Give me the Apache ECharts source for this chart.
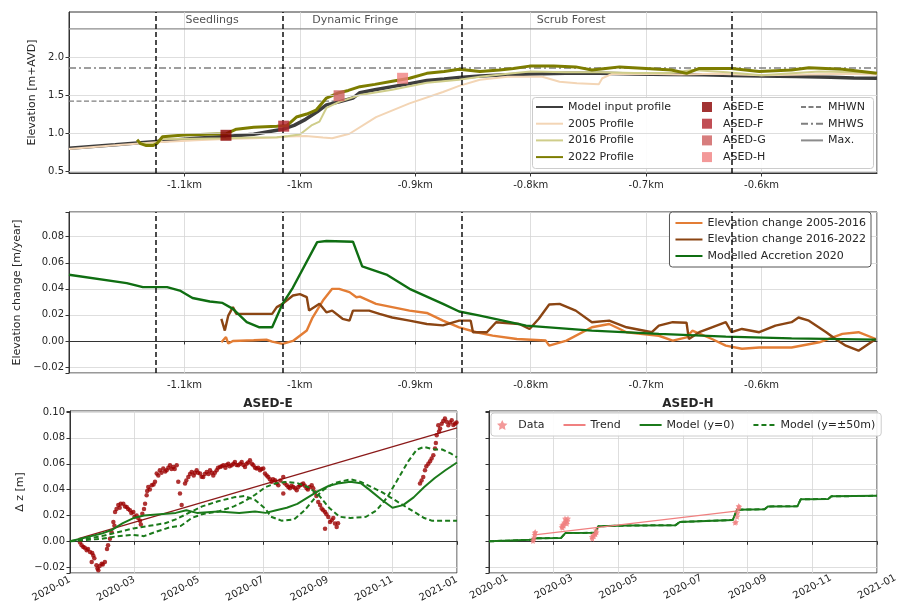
<!DOCTYPE html>
<html>
<head>
<meta charset="utf-8">
<script src="https://cdn.jsdelivr.net/npm/echarts@6.0.0/dist/echarts.min.js"></script>
<style>
  html, body { margin: 0; padding: 0; background: #fff; }
  #chart { width: 909px; height: 610px; }
</style>
</head>
<body>
<div id="chart"></div>
<script>
// ---- top panel: elevation profiles (distance in m, elevation in m+AVD)
const elevTicks = [0.5, 1.0, 1.5, 2.0]
const zoneEdges = [-1125, -1015, -860, -626]
const zoneNames = ['Seedlings', 'Dynamic Fringe', 'Scrub Forest']
const zoneLabelX = [-1076, -952, -765]
const zoneLabelZ = 2.48
const mhwn = 1.42
const mhwnEnd = -970
const mhws = 1.855
const maxLevel = 2.37

const modelProfile = [[-1200,0.80],[-1160,0.845],[-1124,0.89],[-1090,0.93],[-1064,0.955],[-1040,0.985],[-1015,1.05],[-1005,1.10],[-995,1.18],[-985,1.28],[-977,1.37],[-966,1.41],[-954,1.46],[-948,1.53],[-935,1.57],[-920,1.61],[-905,1.65],[-890,1.69],[-875,1.71],[-862,1.73],[-844,1.75],[-820,1.765],[-800,1.775],[-770,1.785],[-740,1.785],[-710,1.775],[-680,1.77],[-650,1.765],[-626,1.755],[-600,1.75],[-570,1.745],[-540,1.735],[-520,1.725],[-500,1.72]]
const profile2005 = [[-1200,0.79],[-1160,0.84],[-1124,0.88],[-1090,0.905],[-1064,0.92],[-1040,0.93],[-1020,0.94],[-1010,0.955],[-995,0.96],[-980,0.94],[-972,0.93],[-957,0.99],[-934,1.21],[-905,1.39],[-876,1.54],[-862,1.62],[-844,1.70],[-820,1.74],[-790,1.74],[-775,1.675],[-760,1.655],[-741,1.64],[-738,1.72],[-730,1.775],[-700,1.78],[-670,1.77],[-640,1.78],[-600,1.76],[-560,1.77],[-530,1.78],[-500,1.77]]
const profile2016 = [[-1141,0.88],[-1130,0.85],[-1124,0.87],[-1119,0.92],[-1090,0.925],[-1064,0.93],[-1040,0.94],[-1020,0.945],[-1010,0.96],[-1000,0.98],[-990,1.10],[-983,1.15],[-977,1.33],[-966,1.41],[-948,1.50],[-920,1.57],[-890,1.66],[-862,1.70],[-844,1.74],[-820,1.78],[-800,1.81],[-770,1.80],[-740,1.80],[-710,1.79],[-680,1.79],[-660,1.83],[-630,1.80],[-600,1.76],[-570,1.79],[-550,1.81],[-520,1.80],[-500,1.79]]
const profile2022 = [[-1141,0.91],[-1138,0.86],[-1133,0.835],[-1127,0.835],[-1124,0.86],[-1119,0.95],[-1100,0.975],[-1080,0.985],[-1064,0.99],[-1055,1.05],[-1040,1.075],[-1020,1.09],[-1011,1.10],[-1003,1.21],[-994,1.25],[-986,1.30],[-977,1.46],[-966,1.53],[-958,1.56],[-948,1.61],[-935,1.64],[-920,1.68],[-905,1.72],[-890,1.785],[-875,1.81],[-862,1.84],[-844,1.81],[-827,1.83],[-815,1.85],[-801,1.88],[-780,1.88],[-761,1.87],[-747,1.83],[-735,1.85],[-723,1.87],[-700,1.85],[-678,1.83],[-665,1.785],[-654,1.85],[-626,1.85],[-602,1.81],[-574,1.83],[-559,1.86],[-530,1.84],[-500,1.785]]

const asedNames = ['ASED-E', 'ASED-F', 'ASED-G', 'ASED-H']
const asedX = [-1064, -1014, -966, -911]
const asedZ = [0.97, 1.09, 1.49, 1.72]
const asedColors = ['#8b0000', '#b2222a', '#cd5c5c', '#f08080']

// ---- middle panel: elevation change (m/year)
const change0516 = [[-1068,-0.001],[-1064,0.003],[-1062,-0.002],[-1058,0.0],[-1040,0.0005],[-1029,0.001],[-1024,-0.0005],[-1015,-0.0023],[-1006,0.0],[-994,0.008],[-989,0.018],[-980,0.031],[-972,0.040],[-966,0.040],[-957,0.0375],[-951,0.0336],[-948,0.034],[-934,0.0285],[-905,0.0233],[-890,0.0215],[-876,0.0156],[-862,0.0105],[-847,0.0067],[-833,0.0041],[-812,0.0015],[-787,0.0003],[-784,-0.0036],[-769,0.0003],[-747,0.0105],[-732,0.013],[-717,0.0067],[-689,0.004],[-677,0.0003],[-665,0.0028],[-660,0.0079],[-643,0.0015],[-631,-0.0036],[-617,-0.006],[-602,-0.005],[-574,-0.005],[-550,-0.001],[-530,0.0054],[-516,0.0067],[-501,0.0015]]
const change1622 = [[-1068,0.017],[-1065,0.008],[-1062,0.0195],[-1058,0.026],[-1055,0.0208],[-1024,0.0208],[-1020,0.026],[-1015,0.0285],[-1006,0.0349],[-1000,0.036],[-994,0.0336],[-992,0.0233],[-983,0.0285],[-977,0.022],[-972,0.0233],[-963,0.017],[-957,0.0156],[-954,0.0233],[-940,0.0233],[-931,0.0208],[-920,0.018],[-905,0.0156],[-890,0.013],[-876,0.012],[-862,0.0156],[-852,0.0156],[-850,0.0067],[-838,0.0067],[-830,0.0144],[-810,0.013],[-801,0.0092],[-793,0.017],[-784,0.028],[-775,0.0285],[-761,0.0233],[-747,0.0144],[-732,0.0156],[-717,0.0105],[-695,0.0067],[-689,0.0118],[-677,0.0144],[-665,0.014],[-663,0.0015],[-654,0.0067],[-643,0.0105],[-631,0.0144],[-626,0.0067],[-617,0.0092],[-602,0.0067],[-588,0.0118],[-574,0.0144],[-568,0.018],[-559,0.0156],[-544,0.0067],[-536,0.0015],[-527,-0.0036],[-516,-0.0075],[-501,0.0015]]
const accretion2020 = [[-1200,0.0508],[-1150,0.0444],[-1136,0.0413],[-1115,0.0413],[-1104,0.0387],[-1093,0.033],[-1078,0.0303],[-1067,0.0292],[-1058,0.0246],[-1046,0.0144],[-1035,0.0105],[-1024,0.0105],[-1015,0.0285],[-1006,0.041],[-985,0.0759],[-977,0.0767],[-954,0.0762],[-946,0.0572],[-925,0.051],[-905,0.040],[-876,0.0285],[-862,0.0226],[-844,0.0195],[-804,0.0118],[-747,0.0079],[-689,0.0054],[-631,0.0033],[-574,0.002],[-501,0.001]]

// ---- bottom panels: days since 2020-01-01, dz in m
const eObs = [[9.5,-0.001],[11,-0.003],[12.6,-0.0044],[14,-0.005],[15.8,-0.007],[17,-0.006],[18.9,-0.0083],[20.5,-0.016],[21,-0.009],[22,-0.011],[23,-0.013],[25,-0.0186],[26,-0.021],[26.8,-0.0224],[28,-0.019],[30,-0.0173],[31,-0.018],[33,-0.016],[35,-0.006],[36,-0.003],[37.8,0.002],[39.4,0.007],[41,0.015],[42,0.012],[42.6,0.0227],[44,0.025],[45.7,0.028],[47,0.026],[48,0.029],[50.4,0.029],[52,0.027],[53.6,0.0266],[55,0.025],[56.7,0.024],[58,0.022],[59.9,0.0227],[61,0.019],[63,0.020],[64.5,0.018],[66.2,0.016],[67,0.013],[68.4,0.0214],[70,0.025],[71,0.029],[72.5,0.0356],[73,0.039],[74,0.042],[75.5,0.040],[77.3,0.0433],[79,0.044],[80.4,0.046],[82,0.0524],[83.5,0.051],[85,0.055],[86.5,0.053],[88.2,0.0563],[90,0.054],[91.4,0.055],[93,0.057],[94.6,0.0588],[96,0.056],[97.7,0.0575],[99,0.056],[100.9,0.0588],[102.4,0.046],[104,0.037],[105.6,0.028],[108.8,0.0447],[110,0.047],[111.9,0.0498],[113.5,0.052],[115.1,0.0537],[117,0.051],[118,0.053],[119.8,0.055],[121,0.053],[123,0.0524],[124.5,0.05],[126,0.0498],[127.5,0.052],[129.3,0.0537],[131,0.052],[132.4,0.055],[134,0.053],[135.5,0.051],[137,0.053],[138.7,0.055],[140,0.057],[141.9,0.0575],[143.5,0.058],[145,0.0588],[147,0.057],[148,0.059],[149.7,0.060],[151,0.058],[152.9,0.0588],[154.5,0.060],[156,0.0614],[157.5,0.059],[159.2,0.0588],[161,0.060],[162.4,0.0614],[164,0.059],[165.5,0.0575],[167,0.06],[168.5,0.061],[170.2,0.0627],[172,0.06],[173.4,0.0588],[175,0.057],[176.5,0.0563],[178,0.057],[179.7,0.055],[181,0.056],[182.8,0.0563],[184.4,0.0524],[186,0.051],[187.5,0.0498],[189,0.048],[190.7,0.046],[192,0.048],[193.9,0.0472],[195.5,0.045],[197,0.0433],[199,0.047],[201.7,0.0498],[201.7,0.037],[203,0.045],[205,0.0433],[206.5,0.042],[208,0.041],[209.5,0.043],[211.2,0.042],[213,0.041],[214.4,0.0395],[216,0.042],[217.5,0.0433],[219,0.044],[220.6,0.0447],[222,0.043],[223.8,0.041],[225,0.04],[226.5,0.042],[228.6,0.0433],[230,0.041],[231.7,0.038],[233,0.035],[234.8,0.0304],[236.5,0.028],[238,0.0253],[239.5,0.024],[241.2,0.0227],[241.2,0.0098],[242.5,0.021],[244.3,0.0188],[245.9,0.015],[247.5,0.0163],[249,0.018],[250.6,0.0137],[252.2,0.011],[253.5,0.014],[331,0.0447],[332.5,0.047],[334.1,0.0498],[335.7,0.055],[337,0.058],[338.9,0.060],[340.5,0.062],[342,0.064],[343.6,0.0666],[345.2,0.0717],[346,0.076],[346.8,0.082],[348.3,0.0898],[349,0.085],[350,0.0872],[351.5,0.091],[353,0.093],[354.6,0.095],[356.2,0.0924],[357.8,0.0898],[359.5,0.092],[361,0.0937],[362.5,0.09],[364.1,0.091],[365.5,0.092]]
const eTrend = [[8,0.002],[366,0.0877]]
const eModel0 = [[0,0],[10,0.002],[20,0.004],[30,0.006],[40,0.009],[50,0.014],[60,0.018],[70,0.02],[85,0.021],[100,0.022],[110,0.024],[120,0.022],[140,0.023],[160,0.022],[175,0.023],[185,0.022],[195,0.024],[205,0.026],[215,0.029],[225,0.034],[235,0.039],[245,0.043],[255,0.045],[265,0.046],[275,0.045],[283,0.04],[295,0.032],[305,0.026],[315,0.028],[325,0.034],[335,0.042],[345,0.049],[355,0.055],[366,0.061]]
const eModelA = [[0,0],[15,0.001],[30,0.002],[45,0.004],[60,0.005],[70,0.004],[80,0.007],[95,0.011],[105,0.012],[115,0.018],[125,0.021],[140,0.023],[155,0.027],[165,0.031],[175,0.036],[185,0.042],[195,0.045],[205,0.046],[215,0.045],[225,0.042],[235,0.036],[245,0.026],[255,0.019],[265,0.018],[280,0.019],[290,0.024],[300,0.034],[310,0.048],[320,0.062],[328,0.071],[335,0.073],[345,0.071],[352,0.071],[360,0.068],[366,0.065]]
const eModelB = [[0,0],[15,0.002],[30,0.004],[45,0.007],[60,0.01],[75,0.012],[90,0.014],[100,0.017],[110,0.021],[125,0.027],[140,0.031],[155,0.034],[165,0.035],[175,0.032],[185,0.025],[190,0.019],[200,0.016],[212,0.017],[222,0.024],[232,0.034],[240,0.04],[250,0.045],[265,0.048],[275,0.046],[285,0.042],[295,0.038],[305,0.033],[315,0.028],[325,0.023],[335,0.018],[342,0.016],[355,0.016],[366,0.016]]

const hObs = [[41.5,0.0002],[42,0.0015],[42.5,0.003],[43,0.005],[43.3,0.0064],[43.6,0.0072],[68.5,0.011],[69,0.0124],[69.5,0.0105],[70,0.013],[70.5,0.012],[71,0.0145],[71.7,0.0176],[72.2,0.015],[72.8,0.0165],[73.5,0.0135],[74,0.0155],[74.5,0.0176],[97,0.0034],[97.5,0.002],[98,0.0045],[99,0.004],[100,0.006],[100.5,0.0055],[101,0.0085],[101.5,0.007],[232,0.0144],[233,0.015],[234,0.019],[234.5,0.022],[235,0.025],[235.5,0.0273],[236,0.0266]]
const hTrend = [[43,0.005],[235,0.0235]]
const hModel = [[0,0],[20,0.0006],[40,0.0013],[45,0.0024],[68,0.0026],[72,0.0064],[100,0.0066],[103,0.0116],[130,0.0122],[176,0.0125],[180,0.015],[230,0.0165],[234,0.0245],[260,0.0248],[263,0.027],[291,0.0272],[294,0.0325],[320,0.0328],[323,0.0348],[366,0.0352]]

const FONT = 'DejaVu Sans'
const INK = '#262626'
const GRID_C = '#d6d6d6'
const GREEN = '#1b7a1b'
const SQUARE = 'path://M0,0H10V10H0Z'
const STAR = 'path://M0,-10L2.9,-4L9.5,-3.1L4.7,1.5L5.9,8.1L0,5L-5.9,8.1L-4.7,1.5L-9.5,-3.1L-2.9,-4Z'

const onStep = (v, s) => Math.abs(v / s - Math.round(v / s)) < 1e-6
const num = (v, d) => (v < -1e-9 ? '\u2212' : '') + Math.abs(v).toFixed(d)
const dayLabel = d => {
  const t = new Date(Date.UTC(2020, 0, 1) + Math.round(d) * 86400000)
  return t.getUTCFullYear() + '-' + String(t.getUTCMonth() + 1).padStart(2, '0')
}

const chart = echarts.init(document.getElementById('chart'))

const tick = { show: true, length: 3.5, lineStyle: { color: '#333' } }
const line = { show: true, lineStyle: { color: '#333' } }
const grid = (o) => Object.assign({ show: true, borderColor: '#333', borderWidth: 1, backgroundColor: '#fff' }, o)

function distAxis (gi) {
  return {
    gridIndex: gi, type: 'value', min: -1200, max: -500, interval: 100,
    axisLine: line, axisTick: tick,
    axisLabel: { formatter: v => (v / 1000) + 'km', showMinLabel: false, showMaxLabel: false,
      fontSize: 10, color: INK, margin: 7 },
    splitLine: { show: true, lineStyle: { color: GRID_C, width: 0.8 } }
  }
}
function dayAxis (gi, align) {
  return {
    gridIndex: gi, type: 'value', min: 0, max: 366, interval: 61,
    axisLine: line, axisTick: tick,
    axisLabel: { formatter: dayLabel, rotate: 28, fontSize: 10, color: INK, margin: align ? 14 : 6, align: align },
    splitLine: { show: true, lineStyle: { color: GRID_C, width: 0.8 } }
  }
}
function dzAxis (gi, labels) {
  return {
    gridIndex: gi, type: 'value', min: -0.0245, max: 0.1008, splitNumber: 6,
    axisLine: line, axisTick: tick,
    name: labels ? 'Δ z [m]' : '', nameLocation: 'middle', nameGap: 44,
    nameTextStyle: { fontSize: 11, color: INK },
    axisLabel: { show: labels, formatter: v => onStep(v, 0.02) ? num(v, 2) : '', fontSize: 10, color: INK, margin: 5 },
    splitLine: { show: true, lineStyle: { color: GRID_C, width: 0.8 } }
  }
}

const zoneLine = (xi, yi) => ({
  name: 'zones' + xi, type: 'line', xAxisIndex: xi, yAxisIndex: yi, data: [], silent: true, z: 5,
  markLine: { silent: true, symbol: 'none', animation: false, label: { show: false },
    lineStyle: { color: '#111', width: 1.5, type: [5, 3] },
    data: zoneEdges.map(v => ({ xAxis: v })) }
})
const prof = (name, data, color, width) => ({
  name, type: 'line', xAxisIndex: 0, yAxisIndex: 0, data, symbol: 'none',
  lineStyle: { color, width }, itemStyle: { color }, z: 3
})
const chg = (name, data, color) => ({
  name, type: 'line', xAxisIndex: 1, yAxisIndex: 1, data, symbol: 'none',
  lineStyle: { color, width: 2.4 }, itemStyle: { color }, z: 3
})
const model = (name, data, xi, dashed) => ({
  name, type: 'line', xAxisIndex: xi, yAxisIndex: xi, data, symbol: 'none',
  lineStyle: { color: GREEN, width: 2, type: dashed ? [5, 3] : 'solid' }, itemStyle: { color: GREEN }, z: 4
})
const legendText = { fontSize: 11, color: INK, lineHeight: 14, fontFamily: FONT }
const noDot = { opacity: 0 }
const lineItem = name => ({ name, itemStyle: noDot })

const option = {
  animation: false,
  textStyle: { fontFamily: FONT },
  title: [
    { text: 'ASED-E', left: 263, top: 393, textAlign: 'center', textStyle: { fontSize: 12, fontWeight: 'bold', color: INK, fontFamily: FONT } },
    { text: 'ASED-H', left: 683, top: 393, textAlign: 'center', textStyle: { fontSize: 12, fontWeight: 'bold', color: INK, fontFamily: FONT } }
  ],
  grid: [
    grid({ left: 69, right: 32, top: 12, height: 161 }),
    grid({ left: 69, right: 32, top: 212, height: 161 }),
    grid({ left: 70, width: 387, top: 411, height: 162 }),
    grid({ left: 489, width: 388, top: 411, height: 162 })
  ],
  xAxis: [distAxis(0), distAxis(1), dayAxis(2), dayAxis(3, 'center')],
  yAxis: [
    { gridIndex: 0, type: 'value', min: 0.474, max: 2.592,
      axisLine: line, axisTick: Object.assign({ customValues: elevTicks }, tick),
      axisLabel: { customValues: elevTicks, formatter: v => elevTicks.some(t => Math.abs(t - v) < 1e-6) ? v.toFixed(1) : '',
        fontSize: 10, color: INK, margin: 5 },
      splitLine: { show: false },
      name: 'Elevation [m+AVD]', nameLocation: 'middle', nameGap: 27, nameTextStyle: { fontSize: 11, color: INK } },
    { gridIndex: 1, type: 'value', min: -0.0246, max: 0.099, splitNumber: 6,
      axisLine: line, axisTick: tick,
      axisLabel: { formatter: v => onStep(v, 0.02) ? num(v, 2) : '', fontSize: 10, color: INK, margin: 5 },
      splitLine: { show: true, lineStyle: { color: GRID_C, width: 0.8 } },
      name: 'Elevation change [m/year]', nameLocation: 'middle', nameGap: 41, nameTextStyle: { fontSize: 11, color: INK } },
    dzAxis(2, true),
    dzAxis(3, false)
  ],
  legend: [
    { data: ['Model input profile', '2005 Profile', '2016 Profile', '2022 Profile'], orient: 'vertical',
      left: 535, top: 100, itemWidth: 27, itemHeight: 10, itemGap: 2.7, selectedMode: false, padding: 0,
      itemStyle: noDot, textStyle: legendText },
    { data: asedNames.map(n => ({ name: n, icon: SQUARE })), orient: 'vertical',
      left: 702, top: 100, itemWidth: 22, itemHeight: 10, itemGap: 2.7, selectedMode: false, padding: 0, textStyle: legendText },
    { data: ['MHWN', 'MHWS', 'Max.'], orient: 'vertical',
      left: 800, top: 100, itemWidth: 22, itemHeight: 10, itemGap: 2.7, selectedMode: false, padding: 0,
      itemStyle: noDot, textStyle: legendText },
    { data: ['Elevation change 2005-2016', 'Elevation change 2016-2022', 'Modelled Accretion 2020'], orient: 'vertical',
      right: 38, top: 212, itemWidth: 27, itemHeight: 10, itemGap: 2.5, selectedMode: false, itemStyle: noDot,
      backgroundColor: '#fff', borderColor: '#555', borderWidth: 1, borderRadius: 3, padding: [4, 5, 4, 5], textStyle: legendText },
    { data: [{ name: 'Data', icon: STAR }, lineItem('Trend'), lineItem('Model (y=0)'), lineItem('Model (y=±50m)')], orient: 'horizontal',
      left: 491, top: 413, itemWidth: 22, itemHeight: 10, itemGap: 18, selectedMode: false,
      backgroundColor: 'rgba(255,255,255,0.9)', borderColor: '#cccccc', borderWidth: 1, borderRadius: 3, padding: [5, 6, 4, 6], textStyle: legendText }
  ],
  graphic: [
    { type: 'rect', left: 532, top: 97, z: 3, silent: true,
      shape: { width: 341, height: 71, r: 3 }, style: { fill: 'rgba(255,255,255,0.9)', stroke: '#cccccc', lineWidth: 1 } }
  ],
  series: [
    // top panel
    { name: 'grid0', type: 'line', xAxisIndex: 0, yAxisIndex: 0, data: [], silent: true, z: 1,
      markLine: { silent: true, symbol: 'none', animation: false, label: { show: false },
        lineStyle: { color: GRID_C, width: 0.8, type: 'solid' }, data: elevTicks.map(v => ({ yAxis: v })) } },
    { name: 'zoneLabels', type: 'scatter', xAxisIndex: 0, yAxisIndex: 0, silent: true, symbolSize: 1,
      itemStyle: { color: 'transparent' },
      label: { show: true, position: 'inside', formatter: '{b}', color: INK, fontSize: 11 },
      data: zoneNames.map((n, i) => ({ name: n, value: [zoneLabelX[i], zoneLabelZ] })) },
    { name: 'MHWN', type: 'line', xAxisIndex: 0, yAxisIndex: 0, symbol: 'none', z: 2,
      data: [[-1200, mhwn], [mhwnEnd, mhwn]], lineStyle: { color: '#7f7f7f', width: 1.3, type: [5, 2.5] }, itemStyle: { color: '#7f7f7f' } },
    { name: 'MHWS', type: 'line', xAxisIndex: 0, yAxisIndex: 0, symbol: 'none', z: 2,
      data: [[-1200, mhws], [-500, mhws]], lineStyle: { color: '#7f7f7f', width: 1.3, type: [7, 3, 2, 3] }, itemStyle: { color: '#7f7f7f' } },
    { name: 'Max.', type: 'line', xAxisIndex: 0, yAxisIndex: 0, symbol: 'none', z: 2,
      data: [[-1200, maxLevel], [-500, maxLevel]], lineStyle: { color: '#8c8c8c', width: 1.2 }, itemStyle: { color: '#8c8c8c' } },
    prof('Model input profile', modelProfile, '#3d3d3d', 3.5),
    prof('2005 Profile', profile2005, '#f3d5b5', 2),
    prof('2016 Profile', profile2016, '#cfcd8a', 2),
    prof('2022 Profile', profile2022, '#7d7d00', 3),
    zoneLine(0, 0),
    ...asedNames.map((n, i) => ({
      name: n, type: 'scatter', xAxisIndex: 0, yAxisIndex: 0, symbol: 'rect', symbolSize: 11, z: 6,
      itemStyle: { color: asedColors[i] }, data: [[asedX[i], asedZ[i]]]
    })),
    // middle panel
    chg('Elevation change 2005-2016', change0516, '#e37d35'),
    chg('Elevation change 2016-2022', change1622, '#8b4513'),
    chg('Modelled Accretion 2020', accretion2020, '#0f6e12'),
    zoneLine(1, 1),
    // bottom left
    { name: 'ASED-E data', type: 'scatter', xAxisIndex: 2, yAxisIndex: 2, symbolSize: 4.5, z: 3,
      itemStyle: { color: '#9b0000' }, data: eObs },
    { name: 'ASED-E trend', type: 'line', xAxisIndex: 2, yAxisIndex: 2, symbol: 'none', z: 3,
      lineStyle: { color: '#8b1a1a', width: 1.3 }, data: eTrend },
    model('Model (y=0)', eModel0, 2, false),
    model('Model (y=±50m)', eModelA, 2, true),
    model('Model (y=±50m)', eModelB, 2, true),
    // bottom right
    { name: 'Data', type: 'scatter', xAxisIndex: 3, yAxisIndex: 3, symbol: STAR, symbolSize: 6, z: 5,
      itemStyle: { color: '#f08080' }, data: hObs },
    { name: 'Trend', type: 'line', xAxisIndex: 3, yAxisIndex: 3, symbol: 'none', z: 5,
      lineStyle: { color: '#f08080', width: 1.3 }, itemStyle: { color: '#f08080' }, data: hTrend },
    model('Model (y=0)', hModel, 3, false),
    model('Model (y=±50m)', hModel, 3, true)
  ]
}

chart.setOption(option)
</script>
</body>
</html>
